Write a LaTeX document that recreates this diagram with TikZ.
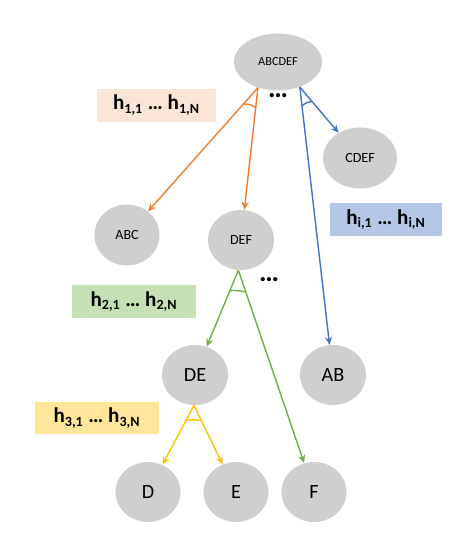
\documentclass[tikz,border=0pt]{standalone}
\usepackage{fontspec}
\setmainfont{Carlito}
\usetikzlibrary{shapes.geometric,arrows.meta,calc}
\definecolor{aoggrey}{HTML}{D0CECE}
\definecolor{aogorange}{HTML}{ED7D31}
\definecolor{aogblue}{HTML}{4472C4}
\definecolor{aoggreen}{HTML}{70AD47}
\definecolor{aogyellow}{HTML}{FFC000}
\definecolor{boxorange}{HTML}{FBE5D6}
\definecolor{boxblue}{HTML}{B4C7E7}
\definecolor{boxgreen}{HTML}{C5E0B4}
\definecolor{boxyellow}{HTML}{FFE699}
\begin{document}
\begin{tikzpicture}[x=0.02cm,y=-0.02cm,
	part/.style={ellipse,fill=aoggrey,minimum width=1.32cm,minimum height=1.2cm,inner sep=0pt,font=\fontsize{11.5}{12}\selectfont},
	small/.style={font=\fontsize{8}{9}\selectfont},
	hyp/.style={minimum width=2.4cm,minimum height=0.66cm,inner sep=0pt,font=\fontsize{12}{13}\selectfont\bfseries},
	edge/.style={line width=0.8pt,-{Stealth[length=4.5pt,width=4pt]}},
	andarc/.style={line width=0.8pt}]
	\useasboundingbox (0,0) rectangle (458,552);
	% nodes
	\node[part,small,minimum width=1.76cm,minimum height=1.14cm,font=\fontsize{7}{8}\selectfont] (abcdef) at (278,62) {ABCDEF};
	\node[part,small,minimum width=1.48cm,minimum height=1.22cm] (cdef) at (360,158) {CDEF};
	\node[part,small,minimum width=1.3cm,minimum height=1.22cm] (abc) at (127,235) {ABC};
	\node[part,small] (def) at (241,240) {DEF};
	\node[part] (de) at (195,375) {DE};
	\node[part] (ab) at (333,375) {AB};
	\node[part,minimum width=1.3cm] (d) at (148,492) {D};
	\node[part,minimum width=1.3cm] (e) at (236,492) {E};
	\node[part,minimum width=1.3cm] (f) at (314,492) {F};
	% hypothesis boxes
	\node[hyp,fill=boxorange,minimum width=2.38cm] (h1) at (156.5,105) {h\textsubscript{1,1} … h\textsubscript{1,N}};
	\node[hyp,fill=boxblue,minimum width=2.24cm] (hi) at (386,219.5) {h\textsubscript{i,1} … h\textsubscript{i,N}};
	\node[hyp,fill=boxgreen,minimum width=2.48cm] (h2) at (134,301.5) {h\textsubscript{2,1} … h\textsubscript{2,N}};
	\node[hyp,fill=boxyellow,minimum width=2.48cm,minimum height=0.64cm] (h3) at (97,418) {h\textsubscript{3,1} … h\textsubscript{3,N}};
	\node[font=\fontsize{16}{16}\selectfont\bfseries] (dots1) at (278,96) {…};
	\node[font=\fontsize{16}{16}\selectfont\bfseries] (dots2) at (269,280) {…};
	% connectors
	\coordinate (o1) at (abcdef.232);
	\coordinate (oi) at (abcdef.311);
	\coordinate (o2) at (def.265);
	\coordinate (o3) at (de.268);
	\draw[edge,aogorange] (o1) -- (abc);
	\draw[edge,aogorange] (o1) -- (def);
	\draw[andarc,aogorange] ($(o1)!0.44cm!(abc)$) to[bend left=20] ($(o1)!0.4cm!(def)$);
	\draw[edge,aogblue] (oi) -- (cdef);
	\draw[edge,aogblue] (oi) -- (ab);
	\draw[andarc,aogblue] ($(oi)!0.38cm!(ab)$) to[bend left=20] ($(oi)!0.38cm!(cdef)$);
	\draw[edge,aoggreen] (o2) -- (de);
	\draw[edge,aoggreen] (o2) -- (f);
	\draw[andarc,aoggreen] ($(o2)!0.44cm!(de)$) to[bend left=8] ($(o2)!0.46cm!(f)$);
	\draw[edge,aogyellow] (o3) -- (d);
	\draw[edge,aogyellow] (o3) -- (e);
	\draw[andarc,aogyellow] ($(o3)!0.34cm!(d)$) to[bend left=8] ($(o3)!0.34cm!(e)$);
\end{tikzpicture}
\end{document}
